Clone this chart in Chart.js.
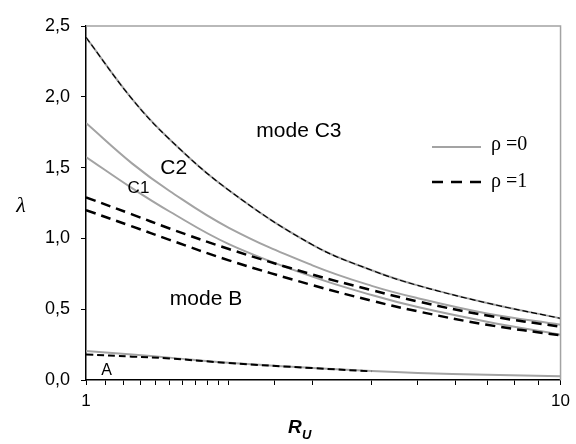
<!DOCTYPE html>
<html>
<head>
<meta charset="utf-8">
<script src="https://cdn.jsdelivr.net/npm/chart.js@4"></script>
<style>
    body { margin: 0; background: #fff; }
    canvas { display: block; }
</style>
</head>
<body>
<canvas id="lambda-chart" width="576" height="444"></canvas>
<script>
// R_U sample points (log axis)
const ruValues = [1, 1.25, 1.5, 2, 3, 4, 5, 7, 10];

// upper boundary, same for rho=0 and rho=1
const c3Curve = [2.42, 1.985, 1.70, 1.34, 0.955, 0.775, 0.668, 0.544, 0.435];
// rho = 0 (grey solid)
const c2Rho0 = [1.815, 1.53, 1.335, 1.075, 0.81, 0.665, 0.578, 0.47, 0.39];
const c1Rho0 = [1.575, 1.355, 1.19, 0.96, 0.73, 0.60, 0.515, 0.412, 0.32];
const aRho0 = [0.205, 0.18, 0.158, 0.122, 0.085, 0.063, 0.05, 0.037, 0.027];
// rho = 1 (black dashed)
const upperRho1 = [1.29, 1.17, 1.07, 0.925, 0.745, 0.635, 0.555, 0.455, 0.376];
const lowerRho1 = [1.20, 1.085, 0.99, 0.845, 0.67, 0.56, 0.485, 0.39, 0.315];
const aRho1 = [0.18, 0.165, 0.152, 0.12, 0.084, 0.061, null, null, null];

const yTicks = [0, 0.5, 1, 1.5, 2, 2.5];

// region labels: [text, R_U, lambda (baseline), font size]
const regionLabels = [
    ['mode C3', 2.81, 1.714, 21],
    ['C2', 1.53, 1.458, 21],
    ['C1', 1.29, 1.321, 17],
    ['mode B', 1.79, 0.529, 21],
    ['A', 1.105, 0.035, 16]
];

const GREY = '#a3a3a3';

function toPoints(values) {
    return ruValues.map((x, i) => ({ x: x, y: values[i] }));
}

function greyLine(values) {
    return {
        data: toPoints(values),
        borderColor: GREY,
        borderWidth: 2,
        pointRadius: 0,
        tension: 0.4,
        order: 2
    };
}

function dashedLine(values, width, dash) {
    return {
        data: toPoints(values),
        borderColor: '#000',
        borderWidth: width,
        borderDash: dash,
        pointRadius: 0,
        tension: 0.4,
        order: 1
    };
}

const extrasPlugin = {
    id: 'extras',
    afterDraw(chart) {
        const ctx = chart.ctx;
        const area = chart.chartArea;
        const xs = chart.scales.x;
        const ys = chart.scales.y;

        // grey top and right frame
        ctx.save();
        ctx.strokeStyle = GREY;
        ctx.lineWidth = 1.5;
        ctx.beginPath();
        ctx.moveTo(area.left, area.top);
        ctx.lineTo(area.right, area.top);
        ctx.lineTo(area.right, area.bottom);
        ctx.stroke();
        ctx.restore();

        // region labels
        ctx.save();
        ctx.fillStyle = '#000';
        ctx.textAlign = 'center';
        ctx.textBaseline = 'alphabetic';
        regionLabels.forEach(l => {
            ctx.font = l[3] + 'px "Liberation Sans", Arial, sans-serif';
            ctx.fillText(l[0], xs.getPixelForValue(l[1]), ys.getPixelForValue(l[2]));
        });
        ctx.restore();

        // legend
        ctx.save();
        ctx.lineWidth = 2;
        ctx.strokeStyle = GREY;
        ctx.beginPath();
        ctx.moveTo(432, 147);
        ctx.lineTo(481, 147);
        ctx.stroke();
        ctx.strokeStyle = '#000';
        ctx.lineWidth = 2.5;
        ctx.setLineDash([11, 8]);
        ctx.beginPath();
        ctx.moveTo(432, 182);
        ctx.lineTo(481, 182);
        ctx.stroke();
        ctx.setLineDash([]);
        ctx.fillStyle = '#000';
        ctx.font = '20px "Liberation Serif", "Times New Roman", serif';
        ctx.textBaseline = 'alphabetic';
        ctx.fillText('\u03c1 =0', 491, 150);
        ctx.fillText('\u03c1 =1', 491, 187);
        ctx.restore();

        // axis titles
        ctx.save();
        ctx.fillStyle = '#000';
        ctx.textBaseline = 'alphabetic';
        ctx.font = 'italic 22px "Liberation Serif", "Times New Roman", serif';
        ctx.textAlign = 'center';
        ctx.fillText('\u03bb', 21, 212);
        ctx.font = 'bold italic 19px "Liberation Sans", Arial, sans-serif';
        ctx.textAlign = 'left';
        ctx.fillText('R', 288, 433);
        ctx.font = 'bold italic 13px "Liberation Sans", Arial, sans-serif';
        ctx.fillText('U', 302, 439);
        ctx.restore();
    }
};

const tickFont = { family: '"Liberation Sans", Arial, sans-serif', size: 18 };

new Chart(document.getElementById('lambda-chart'), {
    type: 'line',
    data: {
        datasets: [
            greyLine(c3Curve),
            dashedLine(c3Curve, 1.2, [6, 3]),
            greyLine(c2Rho0),
            greyLine(c1Rho0),
            greyLine(aRho0),
            dashedLine(upperRho1, 2.5, [10, 6]),
            dashedLine(lowerRho1, 2.5, [10, 6]),
            dashedLine(aRho1, 2, [7, 4])
        ]
    },
    options: {
        responsive: false,
        devicePixelRatio: 1,
        animation: false,
        layout: { padding: { top: 26, right: 11, left: 0, bottom: 0 } },
        plugins: {
            legend: { display: false },
            tooltip: { enabled: false }
        },
        scales: {
            x: {
                type: 'logarithmic',
                min: 1,
                max: 10,
                afterFit: s => { s.height = 64; },
                border: { color: '#000', width: 1.5 },
                grid: { drawOnChartArea: false, drawTicks: true, tickLength: 5, color: '#000' },
                ticks: {
                    autoSkip: false,
                    maxRotation: 0,
                    padding: 6,
                    color: '#000',
                    font: { family: tickFont.family, size: 17 },
                    callback: v => (v === 1 || v === 10) ? String(v) : ''
                }
            },
            y: {
                min: 0,
                max: 2.5,
                afterFit: s => { s.width = 86; },
                afterBuildTicks: s => { s.ticks = yTicks.map(v => ({ value: v })); },
                border: { color: '#000', width: 1.5 },
                grid: { drawOnChartArea: false, drawTicks: true, tickLength: 5, color: '#000' },
                ticks: {
                    padding: 11,
                    color: '#000',
                    font: tickFont,
                    callback: v => v.toFixed(1).replace('.', ',')
                }
            }
        }
    },
    plugins: [extrasPlugin]
});
</script>
</body>
</html>
